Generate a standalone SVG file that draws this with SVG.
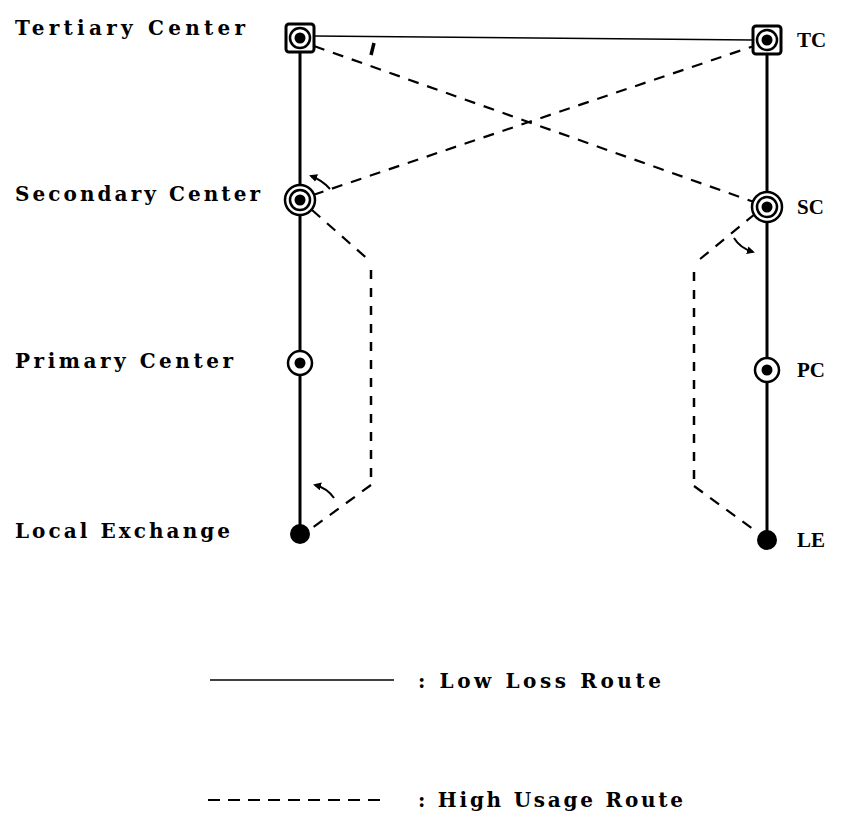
<svg xmlns="http://www.w3.org/2000/svg" width="854" height="829" viewBox="0 0 854 829">
<style>
.lbl{font-family:"DejaVu Serif","Liberation Serif",serif;font-weight:bold;font-size:20px;fill:#000}
.rl{font-family:"Liberation Serif","DejaVu Serif",serif;font-weight:bold;font-size:21px;fill:#000}
.trunk{stroke:#000;stroke-width:3;fill:none}
.solid{stroke:#000;stroke-width:1.5;fill:none}
.dash{stroke:#000;stroke-width:2.2;fill:none;stroke-dasharray:11 9}
.vdash{stroke:#000;stroke-width:2.5;fill:none;stroke-dasharray:9 9}
.ring{fill:#fff;stroke:#000;stroke-width:2.5}
.dot{fill:#000}
.arr{stroke:#000;stroke-width:2;fill:none}
</style>
<defs>
<marker id="ah" markerWidth="8" markerHeight="8" refX="6" refY="4" orient="auto" markerUnits="userSpaceOnUse">
<path d="M0,0 L8,4 L0,8 Z" fill="#000"/>
</marker>
</defs>
<rect width="854" height="829" fill="#fff"/>
<g id="connectors">
<line class="trunk" x1="300" y1="50" x2="300" y2="530"/>
<line class="trunk" x1="767" y1="52" x2="767" y2="536"/>
<line class="solid" x1="314" y1="36" x2="753" y2="40"/>
<line class="dash" x1="314" y1="46" x2="754" y2="202"/>
<line class="dash" x1="313" y1="195" x2="754" y2="46"/>
<polyline class="dash" points="312,210 371,262"/>
<line class="vdash" x1="371" y1="270" x2="371" y2="478"/>
<polyline class="dash" points="371,485 312,528"/>
<polyline class="dash" points="755,214 694,264"/>
<line class="vdash" x1="694" y1="272" x2="694" y2="480"/>
<polyline class="dash" points="694,486 757,532"/>
<path class="arr" d="M330,189 Q322,180 311,176" marker-end="url(#ah)"/>
<path class="arr" d="M334,498 Q327,488 315,485" marker-end="url(#ah)"/>
<path class="arr" d="M734,238 Q740,248 753,252" marker-end="url(#ah)"/>
<line x1="374" y1="43" x2="371" y2="55" stroke="#000" stroke-width="3.5"/>
</g>
<g id="tc-left">
<rect x="286" y="24" width="28" height="28" rx="3" fill="#fff" stroke="#000" stroke-width="3"/>
<circle class="ring" cx="300" cy="38" r="10"/>
<circle class="dot" cx="300" cy="38" r="5.5"/>
<text class="lbl" x="15" y="35" textLength="230" lengthAdjust="spacing">Tertiary Center</text>
</g>
<g id="tc-right">
<rect x="753" y="26" width="28" height="28" rx="3" fill="#fff" stroke="#000" stroke-width="3"/>
<circle class="ring" cx="767" cy="40" r="10"/>
<circle class="dot" cx="767" cy="40" r="5.5"/>
<text class="rl" x="797" y="47">TC</text>
</g>
<g id="sc-left">
<circle class="ring" cx="300" cy="200" r="15"/>
<circle class="ring" cx="300" cy="200" r="10"/>
<circle class="dot" cx="300" cy="200" r="5.5"/>
<text class="lbl" x="15" y="201" textLength="245" lengthAdjust="spacing">Secondary Center</text>
</g>
<g id="sc-right">
<circle class="ring" cx="767" cy="207" r="15"/>
<circle class="ring" cx="767" cy="207" r="10"/>
<circle class="dot" cx="767" cy="207" r="5.5"/>
<text class="rl" x="797" y="214">SC</text>
</g>
<g id="pc-left">
<circle class="ring" cx="300" cy="363" r="12"/>
<circle class="dot" cx="300" cy="363" r="5.5"/>
<text class="lbl" x="15" y="368" textLength="218" lengthAdjust="spacing">Primary Center</text>
</g>
<g id="pc-right">
<circle class="ring" cx="767" cy="370" r="12"/>
<circle class="dot" cx="767" cy="370" r="5.5"/>
<text class="rl" x="797" y="377">PC</text>
</g>
<g id="le-left">
<circle class="dot" cx="300" cy="534" r="10"/>
<text class="lbl" x="15" y="538" textLength="215" lengthAdjust="spacing">Local Exchange</text>
</g>
<g id="le-right">
<circle class="dot" cx="767" cy="540" r="10"/>
<text class="rl" x="797" y="547">LE</text>
</g>
<g id="legend">
<line class="solid" x1="210" y1="680" x2="394" y2="680"/>
<text class="lbl" x="418" y="688" textLength="243" lengthAdjust="spacing">: Low Loss Route</text>
<line x1="208" y1="800" x2="388" y2="800" stroke="#000" stroke-width="2" stroke-dasharray="12 8"/>
<text class="lbl" x="418" y="807" textLength="265" lengthAdjust="spacing">: High Usage Route</text>
</g>
</svg>
